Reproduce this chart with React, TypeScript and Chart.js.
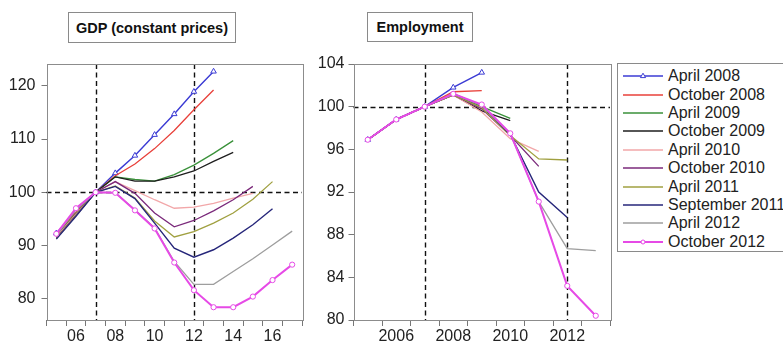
import React, { useEffect, useRef } from 'react';
import { Chart, registerables } from 'chart.js';

Chart.register(...registerables);

const FONT = '"Liberation Sans", Arial, sans-serif';

const seriesNames = [
  'April 2008', 'October 2008', 'April 2009', 'October 2009', 'April 2010',
  'October 2010', 'April 2011', 'September 2011', 'April 2012', 'October 2012',
];
const seriesColors = [
  '#3b3bd4', '#e8403a', '#3a913a', '#1e1e1e', '#f2a7a9',
  '#7b2a7b', '#a0a040', '#26267a', '#9e9e9e', '#e64ae6',
];
const seriesWidths = [1.4, 1.3, 1.3, 1.3, 1.3, 1.3, 1.3, 1.4, 1.3, 2];
const seriesMarkers = ['triangle', null, null, null, null, null, null, null, null, 'circle'];

// GDP (constant prices), 2007 = 100
const gdpYears = ['2005', '2006', '2007', '2008', '2009', '2010', '2011', '2012', '2013', '2014', '2015', '2016', '2017'];
const gdpTickLabels = ['', '06', '', '08', '', '10', '', '12', '', '14', '', '16', ''];
const gdpYTicks = [80, 90, 100, 110, 120];
const gdpApr2008 = [92.3, 96.4, 100, 103.6, 106.9, 110.8, 114.7, 118.9, 122.7, null, null, null, null];
const gdpOct2008 = [92.1, 96.2, 100, 103.1, 105.3, 108.2, 111.6, 115.5, 119.2, null, null, null, null];
const gdpApr2009 = [91.8, 96.0, 100, 102.9, 102.4, 102.1, 103.3, 105.1, 107.3, 109.7, null, null, null];
const gdpOct2009 = [91.5, 95.8, 100, 102.9, 102.1, 102.1, 102.9, 104.0, 105.8, 107.5, null, null, null];
const gdpApr2010 = [91.6, 95.9, 100, 102.0, 100.3, 98.6, 97.0, 97.2, 97.9, 98.9, 99.8, null, null];
const gdpOct2010 = [91.4, 95.7, 100, 102.0, 99.8, 96.1, 93.5, 94.7, 96.5, 98.6, 101.1, null, null];
const gdpApr2011 = [91.3, 95.6, 100, 101.2, 98.9, 94.6, 91.6, 92.6, 94.2, 96.1, 98.7, 102.0, null];
const gdpSep2011 = [91.2, 95.5, 100, 101.1, 98.8, 94.2, 89.5, 87.8, 89.2, 91.4, 93.9, 96.9, null];
const gdpApr2012 = [92.0, 96.7, 100, 99.9, 96.7, 93.3, 87.0, 82.7, 82.7, 85.1, 87.5, 90.1, 92.7];
const gdpOct2012 = [92.2, 97.0, 100, 99.9, 96.6, 93.2, 86.8, 81.6, 78.4, 78.4, 80.4, 83.5, 86.4];
const gdpSeries = [gdpApr2008, gdpOct2008, gdpApr2009, gdpOct2009, gdpApr2010, gdpOct2010, gdpApr2011, gdpSep2011, gdpApr2012, gdpOct2012];

// Employment, 2007 = 100
const empYears = ['2005', '2006', '2007', '2008', '2009', '2010', '2011', '2012', '2013'];
const empTickLabels = ['', '2006', '', '2008', '', '2010', '', '2012', ''];
const empYTicks = [80, 84, 88, 92, 96, 100, 104];
const empApr2008 = [96.9, 98.8, 100, 101.8, 103.2, null, null, null, null];
const empOct2008 = [96.9, 98.8, 100, 101.4, 101.5, null, null, null, null];
const empApr2009 = [96.9, 98.8, 100, 101.1, 100.0, 98.9, null, null, null];
const empOct2009 = [96.9, 98.8, 100, 101.1, 99.6, 98.7, null, null, null];
const empApr2010 = [96.9, 98.8, 100, 101.1, 99.5, 97.0, 95.8, null, null];
const empOct2010 = [96.9, 98.8, 100, 101.1, 99.8, 97.3, 94.4, null, null];
const empApr2011 = [96.9, 98.8, 100, 101.1, 99.9, 97.3, 95.1, 95.0, null];
const empSep2011 = [96.9, 98.8, 100, 101.2, 100.1, 97.4, 92.0, 89.6, null];
const empApr2012 = [96.9, 98.8, 100, 101.2, 100.1, 97.5, 91.1, 86.7, 86.5];
const empOct2012 = [96.9, 98.8, 100, 101.2, 100.2, 97.5, 91.1, 83.2, 80.4];
const empSeries = [empApr2008, empOct2008, empApr2009, empOct2009, empApr2010, empOct2010, empApr2011, empSep2011, empApr2012, empOct2012];

const refLinesPlugin = {
  id: 'refLines',
  beforeDatasetsDraw(chart: any, _args: any, opts: any) {
    const { ctx, chartArea: a, scales } = chart;
    const labels: string[] = chart.data.labels;
    ctx.save();
    ctx.strokeStyle = '#111';
    ctx.lineWidth = 1.4;
    ctx.setLineDash([5, 3.5]);
    (opts.xs || []).forEach((lbl: string) => {
      const x = Math.round(scales.x.getPixelForValue(labels.indexOf(lbl))) + 0.5;
      ctx.beginPath();
      ctx.moveTo(x, a.top);
      ctx.lineTo(x, a.bottom);
      ctx.stroke();
    });
    const y = Math.round(scales.y.getPixelForValue(opts.y)) + 0.5;
    ctx.beginPath();
    ctx.moveTo(a.left, y);
    ctx.lineTo(a.right, y);
    ctx.stroke();
    ctx.restore();
  },
  afterDraw(chart: any) {
    const { ctx, chartArea: a } = chart;
    ctx.save();
    ctx.strokeStyle = '#8c8c8c';
    ctx.lineWidth = 1;
    ctx.strokeRect(Math.round(a.left) + 0.5, Math.round(a.top) + 0.5, Math.round(a.right - a.left), Math.round(a.bottom - a.top));
    ctx.restore();
  },
};

function makeConfig(
  labels: string[], tickLabels: string[], yTicks: number[], yMin: number, yMax: number,
  series: (number | null)[][], yAxisWidth: number, yPad: number, rightPad: number,
) {
  return {
    type: 'line',
    data: {
      labels,
      datasets: seriesNames.map((name, i) => ({
        label: name,
        data: series[i],
        borderColor: seriesColors[i],
        backgroundColor: '#ffffff',
        borderWidth: seriesWidths[i],
        pointStyle: seriesMarkers[i] || 'circle',
        pointRadius: seriesMarkers[i] === 'triangle' ? 3.2 : seriesMarkers[i] === 'circle' ? 2.6 : 0,
        pointBorderWidth: 1,
        pointBorderColor: seriesColors[i],
        pointBackgroundColor: '#ffffff',
        tension: 0,
        order: 10 - i,
      })),
    },
    options: {
      animation: false,
      responsive: false,
      devicePixelRatio: 1,
      layout: { padding: { top: 64, right: rightPad, left: 0, bottom: 0 } },
      plugins: {
        legend: { display: false },
        tooltip: { enabled: false },
        refLines: { xs: ['2007', '2012'], y: 100 },
      },
      scales: {
        x: {
          type: 'category',
          offset: true,
          border: { display: false },
          grid: { offset: true, drawOnChartArea: false, drawTicks: true, tickLength: 6, color: '#777' },
          ticks: {
            autoSkip: false,
            maxRotation: 0,
            padding: 1,
            color: '#222',
            font: { family: FONT, size: 16 },
            callback: (_v: any, i: number) => tickLabels[i],
          },
          afterFit: (s: any) => { s.height = 23; },
        },
        y: {
          type: 'linear',
          min: yMin,
          max: yMax,
          border: { display: false },
          grid: { drawOnChartArea: false, drawTicks: true, tickLength: 5, color: '#777' },
          ticks: { padding: yPad, color: '#222', font: { family: FONT, size: 16 } },
          afterBuildTicks: (s: any) => { s.ticks = yTicks.map((v) => ({ value: v })); },
          afterFit: (s: any) => { s.width = yAxisWidth; },
        },
      },
    },
    plugins: [refLinesPlugin],
  };
}

function ChartCanvas({ config, left, width }: { config: any; left: number; width: number }) {
  const ref = useRef<HTMLCanvasElement>(null);
  useEffect(() => {
    const chart = new Chart(ref.current as HTMLCanvasElement, config);
    return () => chart.destroy();
  }, []);
  return (
    <canvas
      ref={ref}
      width={width}
      height={343}
      style={{ position: 'absolute', left, top: 0, width, height: 343 }}
    />
  );
}

function LegendSwatch({ i }: { i: number }) {
  const c = seriesColors[i];
  const m = seriesMarkers[i];
  return (
    <svg width={40} height={10} style={{ display: 'block', flex: '0 0 40px' }}>
      <line x1={0} y1={5} x2={40} y2={5} stroke={c} strokeWidth={seriesWidths[i]} />
      {m === 'triangle' && <polygon points="20,2.2 22.6,6.6 17.4,6.6" fill="#fff" stroke={c} strokeWidth={1} />}
      {m === 'circle' && <circle cx={20} cy={5} r={2} fill="#fff" stroke={c} strokeWidth={1} />}
    </svg>
  );
}

const titleStyle: React.CSSProperties = {
  position: 'absolute',
  border: '1px solid #8a8a8a',
  fontFamily: FONT,
  fontWeight: 'bold',
  fontSize: 14.5,
  color: '#111',
  display: 'flex',
  alignItems: 'center',
  justifyContent: 'center',
  boxSizing: 'border-box',
  background: '#fff',
};

export default function App() {
  const gdpConfig = makeConfig(gdpYears, gdpTickLabels, gdpYTicks, 76, 124.1, gdpSeries, 46.5, 6, 8);
  const empConfig = makeConfig(empYears, empTickLabels, empYTicks, 80, 104, empSeries, 53.5, 4, 8);
  return (
    <div style={{ position: 'fixed', left: 0, top: 0, width: 783, height: 343, background: '#fff', overflow: 'hidden' }}>
      <ChartCanvas config={gdpConfig} left={0} width={310} />
      <ChartCanvas config={empConfig} left={300} width={318} />
      <div style={{ ...titleStyle, left: 68, top: 12, width: 168, height: 31 }}>GDP (constant prices)</div>
      <div style={{ ...titleStyle, left: 367, top: 12, width: 106, height: 30 }}>Employment</div>
      <div
        style={{
          position: 'absolute', left: 617, top: 63, width: 190, height: 189,
          border: '1px solid #8a8a8a', boxSizing: 'border-box', background: '#fff',
          paddingTop: 3, fontFamily: FONT, fontSize: 16, color: '#222',
        }}
      >
        {seriesNames.map((name, i) => (
          <div key={name} style={{ display: 'flex', alignItems: 'center', height: 18.4, paddingLeft: 5, whiteSpace: 'nowrap' }}>
            <LegendSwatch i={i} />
            <span style={{ marginLeft: 5, lineHeight: '18px' }}>{name}</span>
          </div>
        ))}
      </div>
    </div>
  );
}
